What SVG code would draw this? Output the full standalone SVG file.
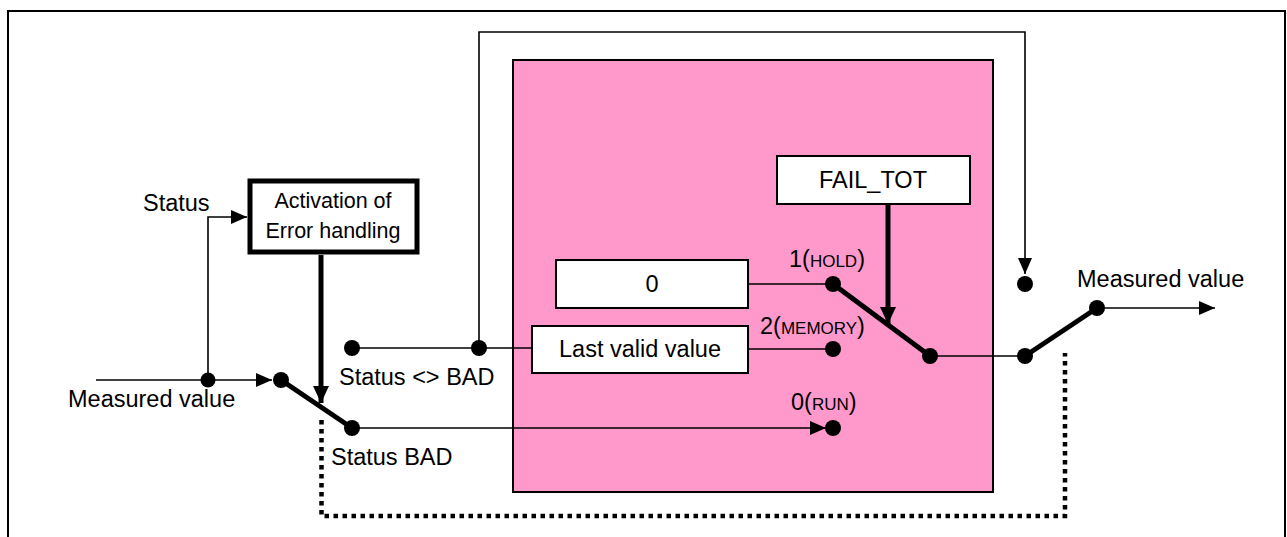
<svg xmlns="http://www.w3.org/2000/svg" width="1287" height="537" viewBox="0 0 1287 537">
<style>
text{font-family:"Liberation Sans",Arial,sans-serif;font-size:23.5px;fill:#000}
.thin{stroke:#000;stroke-width:1.6;fill:none}
.thick{stroke:#000;stroke-width:5;fill:none}
.box{fill:#fff;stroke:#000;stroke-width:2}
.dot{fill:#000}
.sm{font-size:17px}
</style>
<defs>
<marker id="arr" markerUnits="userSpaceOnUse" markerWidth="16" markerHeight="14" viewBox="0 0 16 14" refX="16" refY="7" orient="auto"><path d="M0,0 L16,7 L0,14 z" fill="#000"/></marker>
<marker id="arrT" markerUnits="userSpaceOnUse" markerWidth="17" markerHeight="16" viewBox="0 0 17 16" refX="17" refY="8" orient="auto"><path d="M0,0 L17,8 L0,16 z" fill="#000"/></marker>
</defs>
<rect width="1287" height="537" fill="#fff"/>
<path d="M8,537 V11 H1285 V537" fill="none" stroke="#000" stroke-width="2"/>
<g id="pink-block"><rect x="513" y="60" width="480" height="432" fill="#FF99CC" stroke="#000" stroke-width="2"/></g>
<g id="connectors">
<path class="thin" d="M96,380 H272" marker-end="url(#arr)"/>
<path class="thin" d="M208,380 V217 H247" marker-end="url(#arr)"/>
<path class="thick" d="M281,380 L352,428"/>
<path class="thick" d="M321,255 V403" marker-end="url(#arrT)"/>
<path class="thin" d="M352,428 H826" marker-end="url(#arr)"/>
<path class="thin" d="M352,348 H532"/>
<path class="thin" d="M479,348 V32 H1025 V274" marker-end="url(#arr)"/>
<path class="thin" d="M748,284 H833"/>
<path class="thin" d="M748,349 H833"/>
<path class="thick" d="M833,284 L930,356"/>
<path class="thick" d="M888,204 V324" marker-end="url(#arrT)"/>
<path class="thin" d="M930,356 H1025"/>
<path class="thick" d="M1025,356 L1097,308"/>
<path class="thin" d="M1097,308 H1215" marker-end="url(#arr)"/>
<path d="M321.5,420 V516 H1065 V353" fill="none" stroke="#000" stroke-width="4.5" stroke-dasharray="4.5 4.5"/>
<circle class="dot" cx="208" cy="380" r="7.5"/>
<circle class="dot" cx="281" cy="380" r="8"/>
<circle class="dot" cx="352" cy="428" r="8"/>
<circle class="dot" cx="352" cy="348" r="8"/>
<circle class="dot" cx="479" cy="348" r="8"/>
<circle class="dot" cx="833" cy="284" r="8"/>
<circle class="dot" cx="833" cy="349" r="8"/>
<circle class="dot" cx="833" cy="428" r="8"/>
<circle class="dot" cx="930" cy="356" r="8"/>
<circle class="dot" cx="1025" cy="284" r="8"/>
<circle class="dot" cx="1025" cy="356" r="8"/>
<circle class="dot" cx="1097" cy="308" r="8"/>
</g>
<g id="activation">
<rect x="250" y="181" width="167" height="71" fill="#fff" stroke="#000" stroke-width="5"/>
<text x="333" y="208" text-anchor="middle" style="font-size:21.5px">Activation of</text>
<text x="333" y="238" text-anchor="middle" style="font-size:21.5px">Error handling</text>
</g>
<g id="fail-tot">
<rect class="box" x="777" y="156" width="193" height="48"/>
<text x="873" y="188" text-anchor="middle">FAIL_TOT</text>
</g>
<g id="zero">
<rect class="box" x="556" y="260" width="192" height="48"/>
<text x="652" y="292" text-anchor="middle">0</text>
</g>
<g id="last-valid">
<rect class="box" x="532" y="326" width="216" height="47"/>
<text x="640" y="357" text-anchor="middle">Last valid value</text>
</g>
<g id="labels">
<text x="143" y="211">Status</text>
<text x="68" y="407">Measured value</text>
<text x="339" y="385">Status &lt;&gt; BAD</text>
<text x="331" y="465">Status BAD</text>
<text x="1077" y="287">Measured value</text>
<text x="789" y="267">1(<tspan class="sm">HOLD</tspan>)</text>
<text x="760" y="334">2(<tspan class="sm">MEMORY</tspan>)</text>
<text x="791" y="410">0(<tspan class="sm">RUN</tspan>)</text>
</g>
</svg>
